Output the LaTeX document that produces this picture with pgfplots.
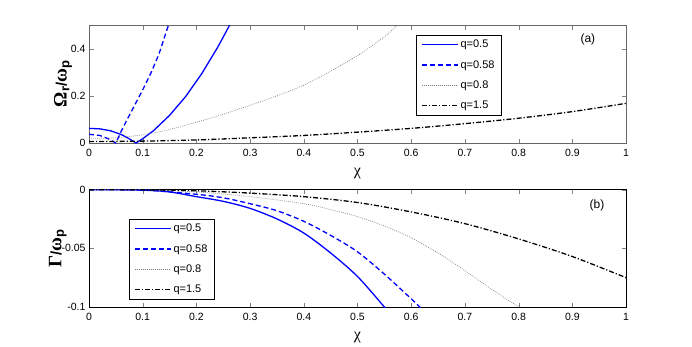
\documentclass[border=0pt]{standalone}
\usepackage{pgfplots}
\pgfplotsset{compat=1.18}
\usepackage{fontspec}
\setmainfont{Liberation Sans}
\newfontfamily\grk{Liberation Serif}

\definecolor{mblue}{RGB}{0,0,255}
\definecolor{mgray}{RGB}{120,120,120}

\tikzset{
  sq5/.style={color=mblue, line width=1.3pt, solid},
  sq58/.style={color=mblue, line width=1.3pt, dash pattern=on 5pt off 3pt},
  sq8/.style={color=mgray, line width=0.7pt, dash pattern=on 0.7pt off 1.3pt},
  sq15/.style={color=black, line width=1.3pt, dash pattern=on 5pt off 2pt on 1.2pt off 2pt},
}

\pgfplotsset{
  panel/.style={
    scale only axis, width=537pt,
    xmin=0, xmax=1,
    xtick={0,0.1,0.2,0.3,0.4,0.5,0.6,0.7,0.8,0.9,1},
    xticklabels={0,0.1,0.2,0.3,0.4,0.5,0.6,0.7,0.8,0.9,1},
    tick align=inside,
    major tick length=4.5pt,
    tick label style={font=\fontsize{10.5}{12}\selectfont},
    xticklabel style={yshift=-3pt},
    /pgf/number format/assume math mode=true,
    scaled y ticks=false,
    xlabel={\fontsize{16}{16}\selectfont\grk χ},
    xlabel style={yshift=-4pt},
    legend cell align=left,
    legend style={font=\fontsize{11}{13}\selectfont, inner ysep=3pt, inner xsep=5pt, row sep=7pt},
  },
  img/.style={legend image code/.code={\draw[#1] (0pt,0pt) -- (36pt,0pt);}},
}

\begin{document}
\begin{tikzpicture}
\path[use as bounding box] (0pt,0pt) rectangle (692pt,346pt);

% (a) real part
\begin{axis}[panel, at={(89pt,203pt)}, anchor=south west, height=118pt,
    ymin=0, ymax=0.5, ytick={0,0.2,0.4}, yticklabels={0,0.2,0.4},
    axis line style={black!60},
    ylabel={\bfseries{\fontsize{19}{19}\selectfont\grk Ω}\raisebox{-0.5ex}{\fontsize{13}{13}\selectfont r}{\fontsize{15}{15}\selectfont/}{\fontsize{19}{19}\selectfont\grk ω}\raisebox{-0.5ex}{\fontsize{13}{13}\selectfont p}},
    ylabel style={yshift=-8pt},
    legend style={at={(0.609,0.915)}, anchor=north west}]
\addlegendimage{img=sq5}\addlegendentry{q=0.5}
\addlegendimage{img=sq58}\addlegendentry{q=0.58}
\addlegendimage{img=sq8}\addlegendentry{q=0.8}
\addlegendimage{img=sq15}\addlegendentry{q=1.5}
\addplot[sq5, forget plot] coordinates {(0,0.062)(0.02,0.060)(0.04,0.052)(0.06,0.036)(0.075,0.018)(0.0875,0.0)(0.1,0.018)(0.12,0.052)(0.15,0.117)(0.18,0.197)(0.21,0.294)(0.24,0.407)(0.262,0.5)(0.27,0.536)};
\addplot[sq58, forget plot] coordinates {(0,0.037)(0.02,0.032)(0.035,0.019)(0.05,0.0)(0.06,0.05)(0.07,0.095)(0.085,0.16)(0.1,0.225)(0.115,0.295)(0.13,0.375)(0.148,0.5)(0.155,0.55)};
\addplot[sq8, smooth, forget plot] coordinates {(0,0.02)(0.05,0.022)(0.1,0.035)(0.13,0.047)(0.15,0.057)(0.2,0.088)(0.25,0.122)(0.3,0.16)(0.35,0.2)(0.4,0.245)(0.45,0.305)(0.5,0.37)(0.55,0.45)(0.575,0.5)(0.6,0.54)};
\addplot[sq15, smooth, forget plot] coordinates {(0,0.006)(0.1,0.008)(0.2,0.013)(0.3,0.022)(0.4,0.032)(0.5,0.046)(0.6,0.062)(0.7,0.082)(0.8,0.105)(0.9,0.133)(1.0,0.168)};
\node[font=\fontsize{12}{12}\selectfont] at (rel axis cs:0.929,0.88) {(a)};
\end{axis}

% (b) damping
\begin{axis}[panel, at={(89pt,39pt)}, anchor=south west, height=117.4pt,
    ymin=-0.1, ymax=0, ytick={-0.1,-0.05,0}, yticklabels={-0.1,-0.05,0},
    ylabel={\bfseries{\fontsize{19}{19}\selectfont\grk Γ}{\fontsize{15}{15}\selectfont/}{\fontsize{19}{19}\selectfont\grk ω}\raisebox{-0.5ex}{\fontsize{13}{13}\selectfont p}},
    ylabel style={yshift=-12pt},
    legend style={at={(0.0745,0.75)}, anchor=north west}]
\addlegendimage{img=sq5}\addlegendentry{q=0.5}
\addlegendimage{img=sq58}\addlegendentry{q=0.58}
\addlegendimage{img=sq8}\addlegendentry{q=0.8}
\addlegendimage{img=sq15}\addlegendentry{q=1.5}
\addplot[sq5, smooth, forget plot] coordinates {(0,0)(0.1,-0.0005)(0.15,-0.002)(0.2,-0.006)(0.25,-0.010)(0.3,-0.016)(0.35,-0.025)(0.4,-0.037)(0.45,-0.054)(0.5,-0.074)(0.55,-0.1)(0.56,-0.106)};
\addplot[sq58, smooth, forget plot] coordinates {(0,0)(0.1,-0.0003)(0.2,-0.004)(0.25,-0.007)(0.3,-0.012)(0.35,-0.018)(0.4,-0.027)(0.45,-0.039)(0.5,-0.053)(0.55,-0.072)(0.6,-0.093)(0.616,-0.1)(0.625,-0.105)};
\addplot[sq8, smooth, forget plot] coordinates {(0,0)(0.1,0)(0.2,-0.002)(0.3,-0.006)(0.4,-0.012)(0.45,-0.017)(0.5,-0.023)(0.55,-0.031)(0.6,-0.041)(0.65,-0.054)(0.7,-0.069)(0.75,-0.085)(0.8,-0.1)(0.81,-0.104)};
\addplot[sq15, smooth, forget plot] coordinates {(0,0)(0.1,-0.0002)(0.2,-0.001)(0.3,-0.003)(0.4,-0.006)(0.5,-0.011)(0.6,-0.019)(0.7,-0.029)(0.8,-0.042)(0.9,-0.057)(1.0,-0.075)};
\node[font=\fontsize{12}{12}\selectfont] at (rel axis cs:0.946,0.869) {(b)};
\end{axis}
\end{tikzpicture}
\end{document}
